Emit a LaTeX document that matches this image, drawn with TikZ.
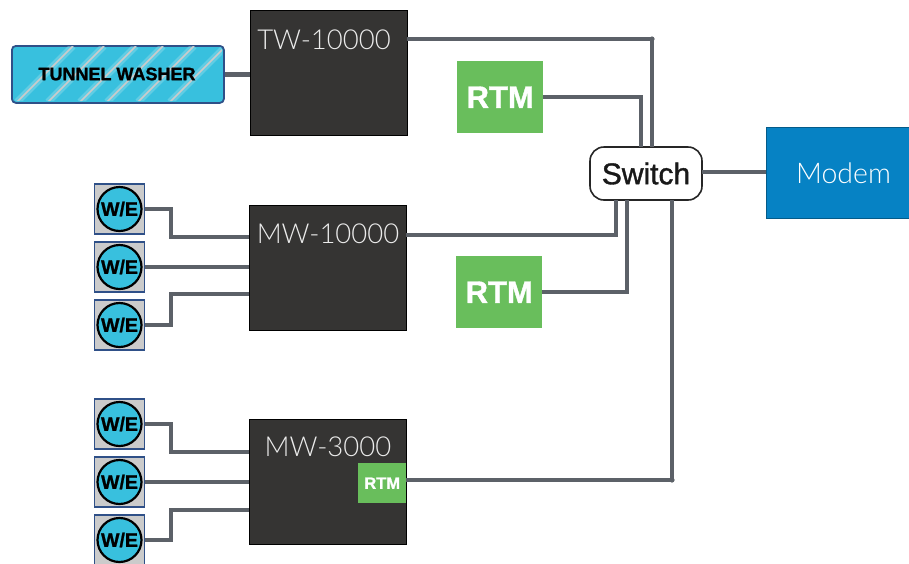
\documentclass[tikz,border=0pt]{standalone}
\usepackage{fontspec}
\setmainfont{Liberation Sans}
\newfontfamily\lightfont{Lato Light}
\newfontfamily\heavyfont[FakeBold=1.2]{Liberation Sans Bold}
\newfontfamily\medfont[FakeBold=1.2]{Liberation Sans}
\begin{document}
\begin{tikzpicture}[x=1pt,y=-1pt,
  box/.style={draw=black,line width=1.2pt,fill=boxgray,inner sep=0pt,anchor=north west},
  boxtitle/.style={text=white!92!black,font=\lightfont\fontsize{27.5}{30}\selectfont,inner sep=0pt},
  wire/.style={draw=wiregray,line width=4.4pt},
  rtm/.style={fill=rtmgreen,inner sep=0pt,anchor=north west,text=white,font=\heavyfont\fontsize{31}{33}\selectfont},
  wesq/.style={draw=wefr,line width=1.2pt,fill=wegray,minimum width=50pt,minimum height=50pt,inner sep=0pt},
  wecirc/.style={circle,draw=black,line width=2.2pt,fill=cyanfill,minimum size=44pt,inner sep=0pt,font=\heavyfont\fontsize{19.5}{20}\selectfont},
]
\definecolor{boxgray}{HTML}{353433}
\definecolor{wiregray}{HTML}{5C6168}
\definecolor{rtmgreen}{HTML}{69BE5C}
\definecolor{wefr}{HTML}{2F5088}
\definecolor{wegray}{HTML}{CBCBCB}
\definecolor{cyanfill}{HTML}{38C0DE}
\definecolor{modemblue}{HTML}{0682C4}
\path[use as bounding box] (0,0) rectangle (909,563);

% boxes
\node[box,minimum width=157pt,minimum height=125pt] (tw) at (250,10) {};
\node[box,minimum width=157pt,minimum height=125pt] (mwa) at (249,205) {};
\node[box,minimum width=157pt,minimum height=125pt] (mwb) at (249,419) {};
\node[boxtitle] at (324,40) {TW-10000};
\node[boxtitle] at (328,234) {MW-10000};
\node[boxtitle] at (328,447) {MW-3000};

% tunnel washer
\node[rounded corners=4pt,draw=wefr,line width=1.8pt,fill=cyanfill,minimum width=212pt,minimum height=57pt,inner sep=0pt,anchor=north west] (tun) at (11,45) {};
\begin{scope}
\clip[rounded corners=4pt] (12,46) rectangle (222,101);
\foreach \b in {17,48,80,107,138,170}{
  \draw[white!60!cyanfill,line width=7pt,opacity=.35] (\b,102) -- (\b+56,46);
  \draw[wegray,line width=1.5pt] (\b,102) -- (\b+56,46);
}
\end{scope}
\node[font=\heavyfont\fontsize{18}{18}\selectfont,inner sep=0pt] at (117,74) {TUNNEL WASHER};

% RTM
\node[rtm,minimum width=86pt,minimum height=72pt] (rtma) at (457,61) {RTM};
\node[rtm,minimum width=86pt,minimum height=72pt] (rtmb) at (456,256) {RTM};
\node[rtm,minimum width=48pt,minimum height=40pt,font=\heavyfont\fontsize{16.5}{17}\selectfont] (rtmc) at (358,463) {RTM};

% switch and modem
\node[rounded corners=14pt,draw=black!85,line width=1.6pt,fill=white,minimum width=112pt,minimum height=53pt,inner sep=0pt,font=\medfont\fontsize{30}{30}\selectfont,text=black!90] (sw) at (646,173.5) {Switch};
\node[fill=modemblue,draw=black!30!modemblue,line width=.8pt,minimum width=144pt,minimum height=91pt,inner sep=0pt,anchor=north west] (modem) at (766,127) {};
\node[text=white,font=\lightfont\fontsize{28.5}{30}\selectfont,inner sep=0pt] at (843.5,173) {Modem};

% W/E units
\foreach \n/\y in {a/209,b/267,c/325,d/424,e/482,f/540}{
  \node[wesq] (sq\n) at (119.5,\y) {};
  \node[wecirc] (we\n) at (119.5,\y) {W/E};
}

% connector end points
\coordinate (tw1) at (407,39);
\coordinate (twc) at (652,39);
\coordinate (swt1) at (652,147);
\coordinate (swt2) at (641,147);
\coordinate (swb1) at (616,200);
\coordinate (swb2) at (627,200);
\coordinate (swb3) at (672,200);
\coordinate (mwa1) at (406,235);
\coordinate (mwb1) at (406,480);
\coordinate (swr) at (702,172);

% connectors
\draw[wire] (tun.east) -- (tun.east -| tw.west);
\draw[wire] (tw1) -- (twc) -- (swt1);
\fill[wiregray] (twc) circle (2.6pt);
\draw[wire] (rtma.east) -| (swt2);
\draw[wire] (mwa1) -| (swb1);
\draw[wire] (rtmb.east) -| (swb2);
\draw[wire] (mwb1) -| (swb3);
\fill[wiregray] (672,480) circle (2.6pt);
\draw[wire] (swr) -- (swr -| modem.west);

\foreach \n/\y in {a/237,c/294}{\draw[wire] (sq\n.east) -| (171,\y) -- (249,\y);}
\foreach \n/\y in {d/452,f/510}{\draw[wire] (sq\n.east) -| (171,\y) -- (249,\y);}
\draw[wire] (sqb.east) -- (sqb.east -| mwa.west);
\draw[wire] (sqe.east) -- (sqe.east -| mwb.west);
\end{tikzpicture}
\end{document}
